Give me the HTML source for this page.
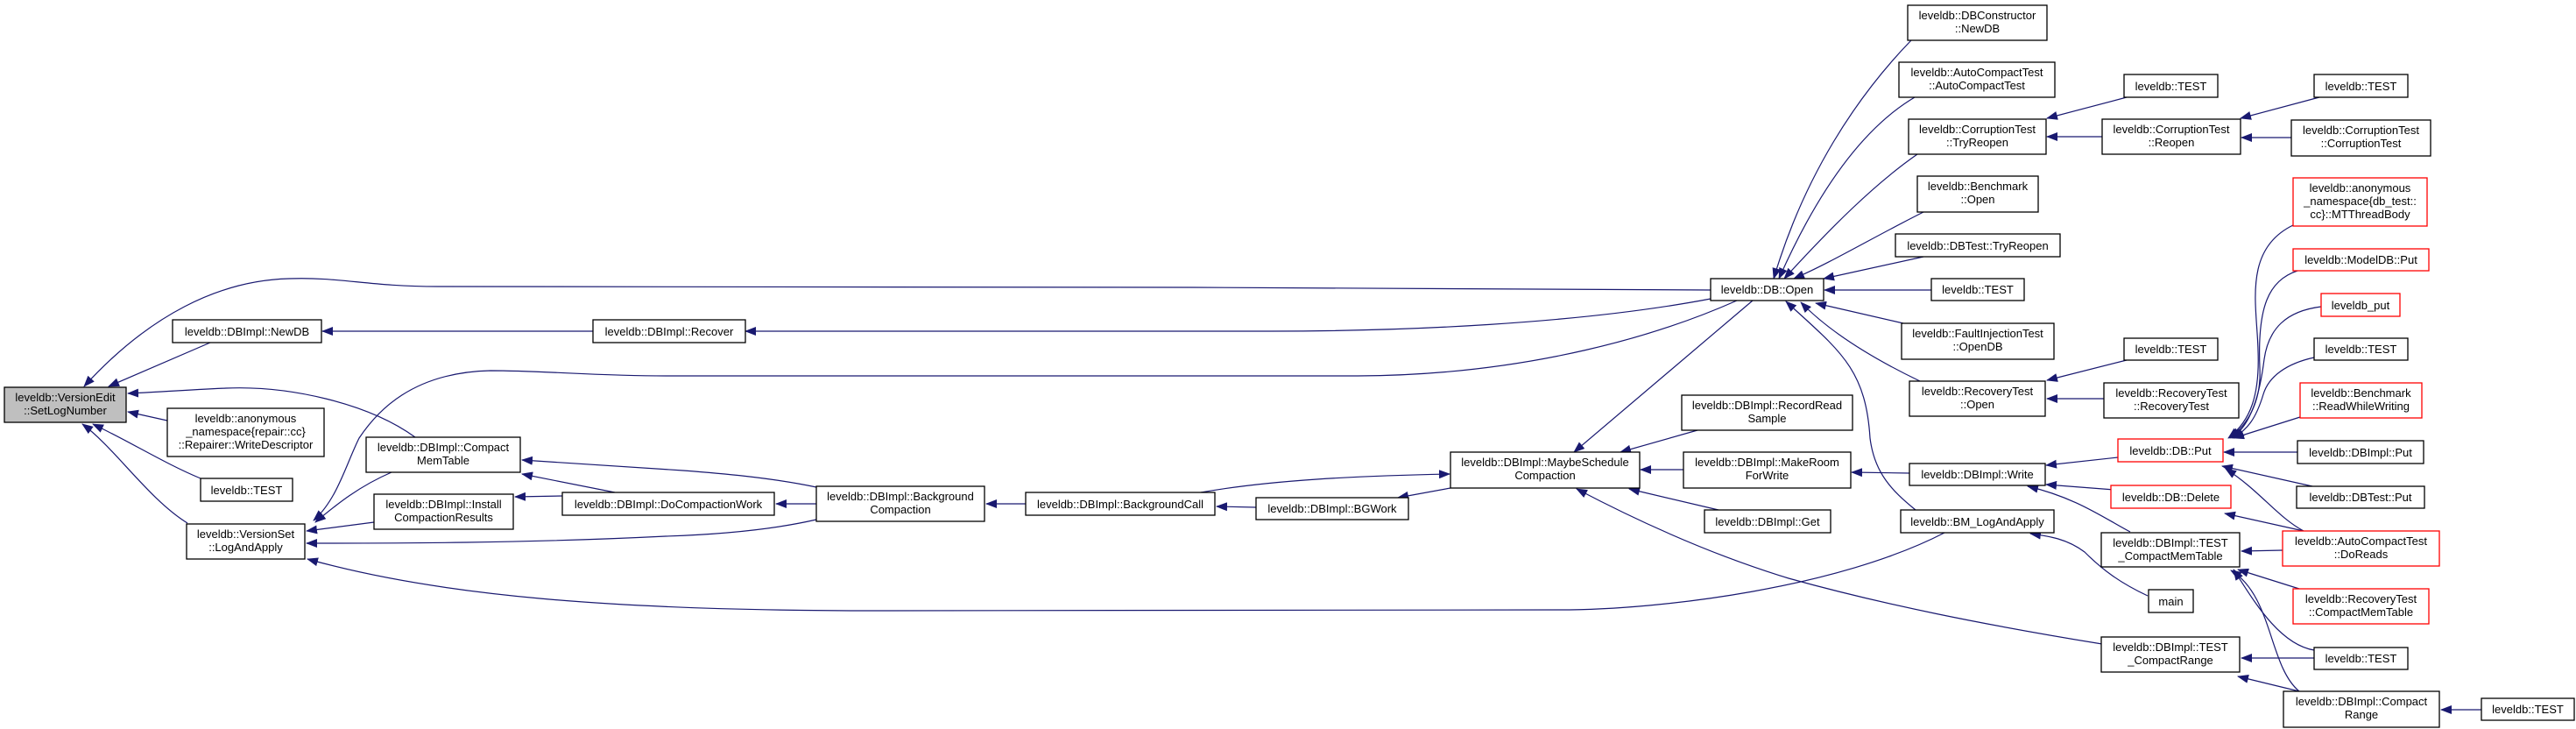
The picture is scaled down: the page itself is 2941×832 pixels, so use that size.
<!DOCTYPE html>
<html><head><meta charset="utf-8"><style>
html,body{margin:0;padding:0;background:#fff;}
svg{display:block;}
text{font-family:"Liberation Sans",sans-serif;font-size:13px;fill:#000;text-anchor:middle;}
.n{fill:#fff;stroke:#000;stroke-width:1.3;}
.r{fill:#fff;stroke:#f00;stroke-width:1.3;}
.g{fill:#bfbfbf;stroke:#000;stroke-width:1.3;}
path.e{fill:none;stroke:#191970;stroke-width:1.2;marker-end:url(#a);}
</style></head><body>
<svg width="2941" height="832" viewBox="0 0 2941 832" xmlns="http://www.w3.org/2000/svg">
<defs><marker id="a" markerWidth="13" markerHeight="10" refX="12" refY="5" orient="auto" markerUnits="userSpaceOnUse"><path d="M0,0 L13,5 L0,10 z" fill="#191970"/></marker></defs>

<!-- edges -->
<path class="e" d="M1953,331 C1500,327 700,327 500,327 C420,327 390,316 330,318 C250,320 170,360 96,441"/>
<path class="e" d="M240,391 L124,441"/>
<path class="e" d="M677,378 L368,378"/>
<path class="e" d="M1953,341 C1800,370 1600,378 1450,378 L851,378"/>
<path class="e" d="M474,499 C420,460 330,440 258,443 C210,445 175,448 146,449"/>
<path class="e" d="M191,480 L146,470"/>
<path class="e" d="M229,546 C190,530 150,505 106,484"/>
<path class="e" d="M214,597 C170,570 130,510 94,484"/>
<path class="e" d="M1983,343 C1900,380 1750,428 1550,429 L760,429 C680,429 620,423 560,423 C470,425 430,470 410,500 C395,530 385,570 358,594"/>
<path class="e" d="M447,539 C410,555 385,575 360,596"/>
<path class="e" d="M427,596 L350,606"/>
<path class="e" d="M932,593 C880,605 820,610 760,612 C600,620 450,620 350,620"/>
<path class="e" d="M2220,608 C2100,670 1900,696 1780,696 L1000,697 C700,697 500,680 351,638"/>
<path class="e" d="M932,556 C880,545 820,540 780,537 L596,525"/>
<path class="e" d="M702,562 L596,541"/>
<path class="e" d="M642,566 L588,567"/>
<path class="e" d="M932,575 L886,575"/>
<path class="e" d="M1171,575 L1126,575"/>
<path class="e" d="M1434,579 L1389,578"/>
<path class="e" d="M1656,557 L1596,568"/>
<path class="e" d="M1371,562 C1450,548 1550,543 1655,541"/>
<path class="e" d="M2001,343 L1797,516"/>
<path class="e" d="M1938,491 L1850,516"/>
<path class="e" d="M1922,536 L1873,536"/>
<path class="e" d="M1962,582 L1860,558"/>
<path class="e" d="M2400,735 C2265,713 2150,690 2042,660 C1960,635 1880,600 1800,558"/>
<path class="e" d="M2180,540 L2114,539"/>
<path class="e" d="M2187,582 C2160,560 2140,540 2135,500 C2130,420 2100,400 2039,344"/>
<path class="e" d="M2452,680 C2420,665 2400,650 2380,630 C2360,615 2340,612 2318,609"/>
<path class="e" d="M2418,522 L2336,531"/>
<path class="e" d="M2427,560 L2336,553"/>
<path class="e" d="M2432,607 C2400,590 2370,568 2315,555"/>
<path class="e" d="M2182,46 C2120,110 2060,200 2025,318"/>
<path class="e" d="M2186,111 C2120,150 2070,230 2031,318"/>
<path class="e" d="M2189,176 C2140,210 2090,260 2037,318"/>
<path class="e" d="M2196,242 C2140,270 2090,300 2048,318"/>
<path class="e" d="M2196,293 L2082,318"/>
<path class="e" d="M2205,331 L2083,331"/>
<path class="e" d="M2173,369 L2073,346"/>
<path class="e" d="M2192,435 C2140,410 2090,380 2056,345"/>
<path class="e" d="M2428,111 L2337,135"/>
<path class="e" d="M2400,156 L2337,156"/>
<path class="e" d="M2428,411 L2337,434"/>
<path class="e" d="M2402,455 L2337,455"/>
<path class="e" d="M2648,111 L2558,135"/>
<path class="e" d="M2616,157 L2559,157"/>
<path class="e" d="M2618,257 C2560,285 2577,350 2578,400 C2580,450 2570,480 2544,500"/>
<path class="e" d="M2623,309 C2590,320 2577,350 2580,420 C2582,460 2565,485 2546,500"/>
<path class="e" d="M2650,350 C2610,355 2590,375 2585,410 C2580,450 2570,485 2548,500"/>
<path class="e" d="M2642,408 C2610,415 2590,430 2584,450 C2575,480 2565,490 2550,500"/>
<path class="e" d="M2626,476 L2550,500"/>
<path class="e" d="M2623,516 L2539,516"/>
<path class="e" d="M2640,555 L2537,532"/>
<path class="e" d="M2630,606 C2600,590 2580,560 2541,535"/>
<path class="e" d="M2630,606 L2540,586"/>
<path class="e" d="M2606,628 L2559,629"/>
<path class="e" d="M2625,672 L2555,650"/>
<path class="e" d="M2642,742 C2600,735 2570,680 2550,650"/>
<path class="e" d="M2625,789 C2590,760 2595,680 2547,651"/>
<path class="e" d="M2642,751 L2559,751"/>
<path class="e" d="M2625,789 L2555,772"/>
<path class="e" d="M2833,810 L2787,810"/>

<!-- nodes -->
<rect class="g" x="5" y="442" width="139" height="40"/><text x="74.5" y="458">leveldb::VersionEdit</text><text x="74.5" y="473">::SetLogNumber</text>
<rect class="n" x="197" y="365" width="170" height="26"/><text x="282" y="383">leveldb::DBImpl::NewDB</text>
<rect class="n" x="191" y="466" width="179" height="55"/><text x="280.5" y="482">leveldb::anonymous</text><text x="280.5" y="497">_namespace{repair::cc}</text><text x="280.5" y="512">::Repairer::WriteDescriptor</text>
<rect class="n" x="229" y="546" width="105" height="26"/><text x="281.5" y="564">leveldb::TEST</text>
<rect class="n" x="213" y="598" width="135" height="40"/><text x="280.5" y="614">leveldb::VersionSet</text><text x="280.5" y="629">::LogAndApply</text>
<rect class="n" x="418" y="499" width="176" height="40"/><text x="506" y="515">leveldb::DBImpl::Compact</text><text x="506" y="530">MemTable</text>
<rect class="n" x="427" y="564" width="159" height="40"/><text x="506.5" y="580">leveldb::DBImpl::Install</text><text x="506.5" y="595">CompactionResults</text>
<rect class="n" x="677" y="365" width="174" height="26"/><text x="764" y="383">leveldb::DBImpl::Recover</text>
<rect class="n" x="642" y="562" width="242" height="26"/><text x="763" y="580">leveldb::DBImpl::DoCompactionWork</text>
<rect class="n" x="932" y="555" width="192" height="40"/><text x="1028" y="571">leveldb::DBImpl::Background</text><text x="1028" y="586">Compaction</text>
<rect class="n" x="1171" y="562" width="216" height="26"/><text x="1279" y="580">leveldb::DBImpl::BackgroundCall</text>
<rect class="n" x="1434" y="568" width="174" height="25"/><text x="1521" y="585">leveldb::DBImpl::BGWork</text>
<rect class="n" x="1656" y="516" width="216" height="41"/><text x="1764" y="532">leveldb::DBImpl::MaybeSchedule</text><text x="1764" y="547">Compaction</text>
<rect class="n" x="1920" y="451" width="195" height="40"/><text x="2017.5" y="467">leveldb::DBImpl::RecordRead</text><text x="2017.5" y="482">Sample</text>
<rect class="n" x="1922" y="516" width="191" height="41"/><text x="2017.5" y="532">leveldb::DBImpl::MakeRoom</text><text x="2017.5" y="547">ForWrite</text>
<rect class="n" x="1946" y="582" width="144" height="26"/><text x="2018" y="600">leveldb::DBImpl::Get</text>
<rect class="n" x="1953" y="318" width="129" height="25"/><text x="2017.5" y="335">leveldb::DB::Open</text>
<rect class="n" x="2178" y="6" width="159" height="40"/><text x="2257.5" y="22">leveldb::DBConstructor</text><text x="2257.5" y="37">::NewDB</text>
<rect class="n" x="2168" y="71" width="178" height="40"/><text x="2257" y="87">leveldb::AutoCompactTest</text><text x="2257" y="102">::AutoCompactTest</text>
<rect class="n" x="2179" y="136" width="157" height="40"/><text x="2257.5" y="152">leveldb::CorruptionTest</text><text x="2257.5" y="167">::TryReopen</text>
<rect class="n" x="2189" y="201" width="138" height="41"/><text x="2258" y="217">leveldb::Benchmark</text><text x="2258" y="232">::Open</text>
<rect class="n" x="2164" y="267" width="188" height="26"/><text x="2258" y="285">leveldb::DBTest::TryReopen</text>
<rect class="n" x="2205" y="318" width="106" height="25"/><text x="2258" y="335">leveldb::TEST</text>
<rect class="n" x="2171" y="369" width="174" height="41"/><text x="2258" y="385">leveldb::FaultInjectionTest</text><text x="2258" y="400">::OpenDB</text>
<rect class="n" x="2180" y="435" width="155" height="40"/><text x="2257.5" y="451">leveldb::RecoveryTest</text><text x="2257.5" y="466">::Open</text>
<rect class="n" x="2180" y="529" width="155" height="25"/><text x="2257.5" y="546">leveldb::DBImpl::Write</text>
<rect class="n" x="2170" y="582" width="175" height="26"/><text x="2257.5" y="600">leveldb::BM_LogAndApply</text>
<rect class="n" x="2425" y="85" width="107" height="26"/><text x="2478.5" y="103">leveldb::TEST</text>
<rect class="n" x="2400" y="136" width="158" height="40"/><text x="2479" y="152">leveldb::CorruptionTest</text><text x="2479" y="167">::Reopen</text>
<rect class="n" x="2425" y="386" width="107" height="25"/><text x="2478.5" y="403">leveldb::TEST</text>
<rect class="n" x="2402" y="437" width="154" height="40"/><text x="2479" y="453">leveldb::RecoveryTest</text><text x="2479" y="468">::RecoveryTest</text>
<rect class="r" x="2418" y="501" width="120" height="26"/><text x="2478" y="519">leveldb::DB::Put</text>
<rect class="r" x="2410" y="554" width="137" height="26"/><text x="2478.5" y="572">leveldb::DB::Delete</text>
<rect class="n" x="2399" y="608" width="158" height="39"/><text x="2478" y="624">leveldb::DBImpl::TEST</text><text x="2478" y="639">_CompactMemTable</text>
<rect class="n" x="2453" y="673" width="51" height="26"/><text x="2478.5" y="691">main</text>
<rect class="n" x="2399" y="727" width="158" height="40"/><text x="2478" y="743">leveldb::DBImpl::TEST</text><text x="2478" y="758">_CompactRange</text>
<rect class="n" x="2642" y="85" width="107" height="26"/><text x="2695.5" y="103">leveldb::TEST</text>
<rect class="n" x="2616" y="137" width="159" height="41"/><text x="2695.5" y="153">leveldb::CorruptionTest</text><text x="2695.5" y="168">::CorruptionTest</text>
<rect class="r" x="2618" y="203" width="153" height="55"/><text x="2694.5" y="219">leveldb::anonymous</text><text x="2694.5" y="234">_namespace{db_test::</text><text x="2694.5" y="249">cc}::MTThreadBody</text>
<rect class="r" x="2618" y="284" width="155" height="25"/><text x="2695.5" y="301">leveldb::ModelDB::Put</text>
<rect class="r" x="2650" y="335" width="90" height="26"/><text x="2695" y="353">leveldb_put</text>
<rect class="n" x="2642" y="386" width="107" height="25"/><text x="2695.5" y="403">leveldb::TEST</text>
<rect class="r" x="2626" y="437" width="139" height="40"/><text x="2695.5" y="453">leveldb::Benchmark</text><text x="2695.5" y="468">::ReadWhileWriting</text>
<rect class="n" x="2623" y="503" width="144" height="26"/><text x="2695" y="521">leveldb::DBImpl::Put</text>
<rect class="n" x="2622" y="555" width="146" height="25"/><text x="2695" y="572">leveldb::DBTest::Put</text>
<rect class="r" x="2606" y="606" width="179" height="40"/><text x="2695.5" y="622">leveldb::AutoCompactTest</text><text x="2695.5" y="637">::DoReads</text>
<rect class="r" x="2618" y="672" width="155" height="40"/><text x="2695.5" y="688">leveldb::RecoveryTest</text><text x="2695.5" y="703">::CompactMemTable</text>
<rect class="n" x="2642" y="739" width="107" height="25"/><text x="2695.5" y="756">leveldb::TEST</text>
<rect class="n" x="2607" y="789" width="178" height="41"/><text x="2696" y="805">leveldb::DBImpl::Compact</text><text x="2696" y="820">Range</text>
<rect class="n" x="2833" y="797" width="106" height="25"/><text x="2886" y="814">leveldb::TEST</text>
</svg>
</body></html>
